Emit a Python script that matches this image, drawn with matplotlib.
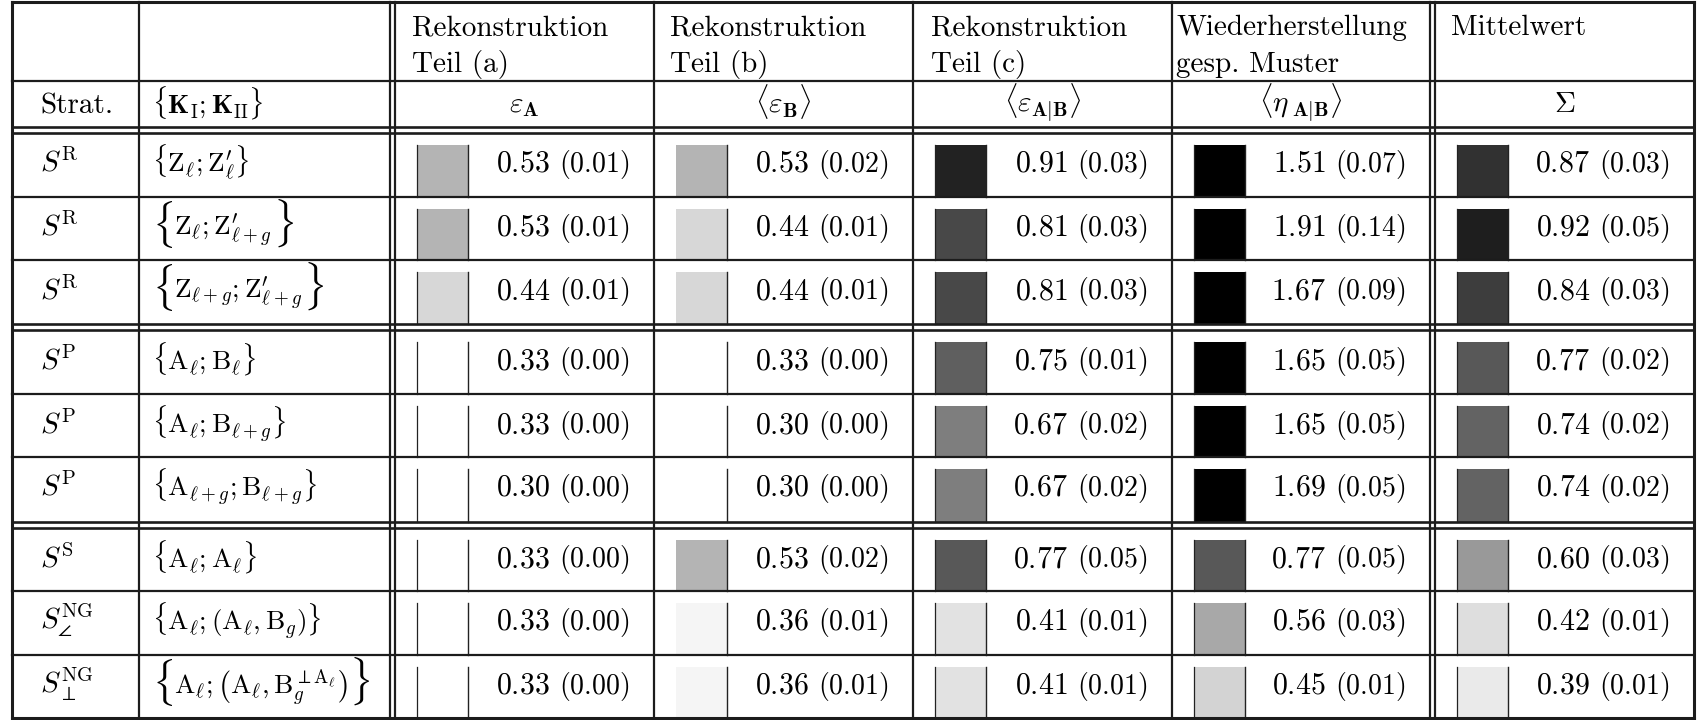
import numpy as np
import matplotlib
matplotlib.use('Agg')
import matplotlib.pyplot as plt
from matplotlib.colors import Normalize

plt.rcParams['mathtext.fontset'] = 'cm'

# table content
strategies = [r'$S^{\mathrm{R}}$', r'$S^{\mathrm{R}}$', r'$S^{\mathrm{R}}$',
              r'$S^{\mathrm{P}}$', r'$S^{\mathrm{P}}$', r'$S^{\mathrm{P}}$',
              r'$S^{\mathrm{S}}$', r'$S^{\mathrm{NG}}_{\angle}$', r'$S^{\mathrm{NG}}_{\perp}$']
# inner part of each {K_I; K_II} pair, braces added when drawn
pairs = [r'\mathrm{Z}_{\ell};\mathrm{Z}^{\prime}_{\ell}',
         r'\mathrm{Z}_{\ell};\mathrm{Z}^{\prime}_{\ell+g}',
         r'\mathrm{Z}_{\ell+g};\mathrm{Z}^{\prime}_{\ell+g}',
         r'\mathrm{A}_{\ell};\mathrm{B}_{\ell}',
         r'\mathrm{A}_{\ell};\mathrm{B}_{\ell+g}',
         r'\mathrm{A}_{\ell+g};\mathrm{B}_{\ell+g}',
         r'\mathrm{A}_{\ell};\mathrm{A}_{\ell}',
         r'\mathrm{A}_{\ell};(\mathrm{A}_{\ell},\mathrm{B}_{g})',
         r'\mathrm{A}_{\ell};\left(\mathrm{A}_{\ell},\mathrm{B}_{g}^{\perp\mathrm{A}_{\ell}}\right)']
big_brace = [False, True, True, False, False, False, False, False, True]

col_titles = [('Rekonstruktion', 'Teil (a)'),
              ('Rekonstruktion', 'Teil (b)'),
              ('Rekonstruktion', 'Teil (c)'),
              ('Wiederherstellung', 'gesp. Muster'),
              ('Mittelwert', '')]
col_symbols = [r'$\varepsilon_{\mathbf{A}}$',
               r'$\langle\varepsilon_{\mathbf{B}}\rangle$',
               r'$\langle\varepsilon_{\mathbf{A}|\mathbf{B}}\rangle$',
               r'$\langle\eta_{\;\mathbf{A}|\mathbf{B}}\rangle$',
               r'$\Sigma$']

eps_a = [0.53, 0.53, 0.44, 0.33, 0.33, 0.30, 0.33, 0.33, 0.33]
eps_a_sd = [0.01, 0.01, 0.01, 0.00, 0.00, 0.00, 0.00, 0.00, 0.00]
eps_b = [0.53, 0.44, 0.44, 0.33, 0.30, 0.30, 0.53, 0.36, 0.36]
eps_b_sd = [0.02, 0.01, 0.01, 0.00, 0.00, 0.00, 0.02, 0.01, 0.01]
eps_ab = [0.91, 0.81, 0.81, 0.75, 0.67, 0.67, 0.77, 0.41, 0.41]
eps_ab_sd = [0.03, 0.03, 0.03, 0.01, 0.02, 0.02, 0.05, 0.01, 0.01]
eta_ab = [1.51, 1.91, 1.67, 1.65, 1.65, 1.69, 0.77, 0.56, 0.45]
eta_ab_sd = [0.07, 0.14, 0.09, 0.05, 0.05, 0.05, 0.05, 0.03, 0.01]
sigma = [0.87, 0.92, 0.84, 0.77, 0.74, 0.74, 0.60, 0.42, 0.39]
sigma_sd = [0.03, 0.05, 0.03, 0.02, 0.02, 0.02, 0.03, 0.01, 0.01]

values = [eps_a, eps_b, eps_ab, eta_ab, sigma]
errors = [eps_a_sd, eps_b_sd, eps_ab_sd, eta_ab_sd, sigma_sd]

# grid layout in pixels
x_single = [12, 139, 654, 913, 1172, 1694]
x_double = [(390, 395), (1430, 1435)]
y_single = [2, 81, 197, 260, 394, 457, 591, 655, 718]
y_double = [(127, 133), (324, 330), (522, 528)]
col_left = [395, 654, 913, 1172, 1435]
col_right = [654, 913, 1172, 1430, 1694]
title_pad = [17, 16, 18, 4, 16]
left_edge = [True, False, True, True, True]
row_top = [133, 197, 260, 330, 394, 457, 528, 591, 655]
row_bot = [197, 260, 324, 394, 457, 522, 591, 655, 718]

line_c = '#1c1c1c'
fs = 21
fs_pair = 19.5

fig = plt.figure(figsize=(17.01, 7.20), dpi=100)
ax = fig.add_axes([0, 0, 1, 1])
ax.set_xlim(0, 1701)
ax.set_ylim(720, 0)
ax.axis('off')

renderer = fig.canvas.get_renderer()
to_data = ax.transData.inverted()


def right_of(t):
    bb = t.get_window_extent(renderer)
    return to_data.transform((bb.x1, bb.y0))[0]


cmap = plt.get_cmap('gray_r')
norm = Normalize(vmin=1 / 3, vmax=1.0, clip=True)

# shaded boxes with values
for j in range(5):
    for i in range(9):
        x0 = col_left[j] + 22
        ax.add_patch(plt.Rectangle((x0, row_top[i] + 12), 51, row_bot[i] - row_top[i] - 12,
                                   facecolor=cmap(norm(values[j][i])), edgecolor='none', zorder=1))
        ax.plot([x0 + 51, x0 + 51], [row_top[i] + 12, row_bot[i]], color='#222222', lw=1.0, zorder=2)
        if left_edge[j]:
            ax.plot([x0, x0], [row_top[i] + 12, row_bot[i]], color='#222222', lw=0.9, zorder=2)
        ax.text(col_right[j] - 104, row_top[i] + 39, '$%.2f$' % values[j][i],
                ha='right', va='baseline', fontsize=fs + 0.5)
        ax.text(col_right[j] - 25, row_top[i] + 39, '$(%.2f)$' % errors[j][i],
                ha='right', va='baseline', fontsize=20)

# row labels
for i in range(9):
    base = row_top[i] + 39
    ax.text(40, base, strategies[i], ha='left', va='baseline', fontsize=fs)
    if big_brace[i]:
        lb = ax.text(152, base + 3, r'$\{$', ha='left', va='baseline', fontsize=29)
        body = ax.text(right_of(lb) + 1, base, '$' + pairs[i] + '$',
                       ha='left', va='baseline', fontsize=fs_pair)
        ax.text(right_of(body) + 1, base + 3, r'$\}$', ha='left', va='baseline', fontsize=29)
    else:
        ax.text(152, base, r'$\{' + pairs[i] + r'\}$', ha='left', va='baseline', fontsize=fs_pair)

# header
ax.text(40, 113, 'Strat.', family='cmr10', ha='left', va='baseline', fontsize=fs)
ax.text(152, 113, r'$\{\mathbf{K}_{\mathrm{I}};\mathbf{K}_{\mathrm{II}}\}$',
        ha='left', va='baseline', fontsize=fs_pair)
for j in range(5):
    ax.text(col_left[j] + title_pad[j], 35, col_titles[j][0], family='cmr10',
            ha='left', va='baseline', fontsize=fs)
    ax.text(col_left[j] + title_pad[j], 72, col_titles[j][1], family='cmr10',
            ha='left', va='baseline', fontsize=fs)
    ax.text((col_left[j] + col_right[j]) / 2, 112, col_symbols[j],
            ha='center', va='baseline', fontsize=fs)

# rules
for x in x_single:
    lw = 2.2 if x in (12, 1694) else 1.6
    ax.plot([x, x], [2, 718], color=line_c, lw=lw, solid_capstyle='projecting')
for xa, xb in x_double:
    for x in (xa, xb):
        ax.plot([x, x], [2, 718], color=line_c, lw=1.6)
for y in y_single:
    lw = 2.2 if y in (2, 718) else 1.6
    ax.plot([12, 1694], [y, y], color=line_c, lw=lw, solid_capstyle='projecting')
for ya, yb in y_double:
    for y in (ya, yb):
        ax.plot([12, 1694], [y, y], color=line_c, lw=1.9, solid_capstyle='projecting')

fig.savefig('out.png', dpi=100, facecolor='white')
